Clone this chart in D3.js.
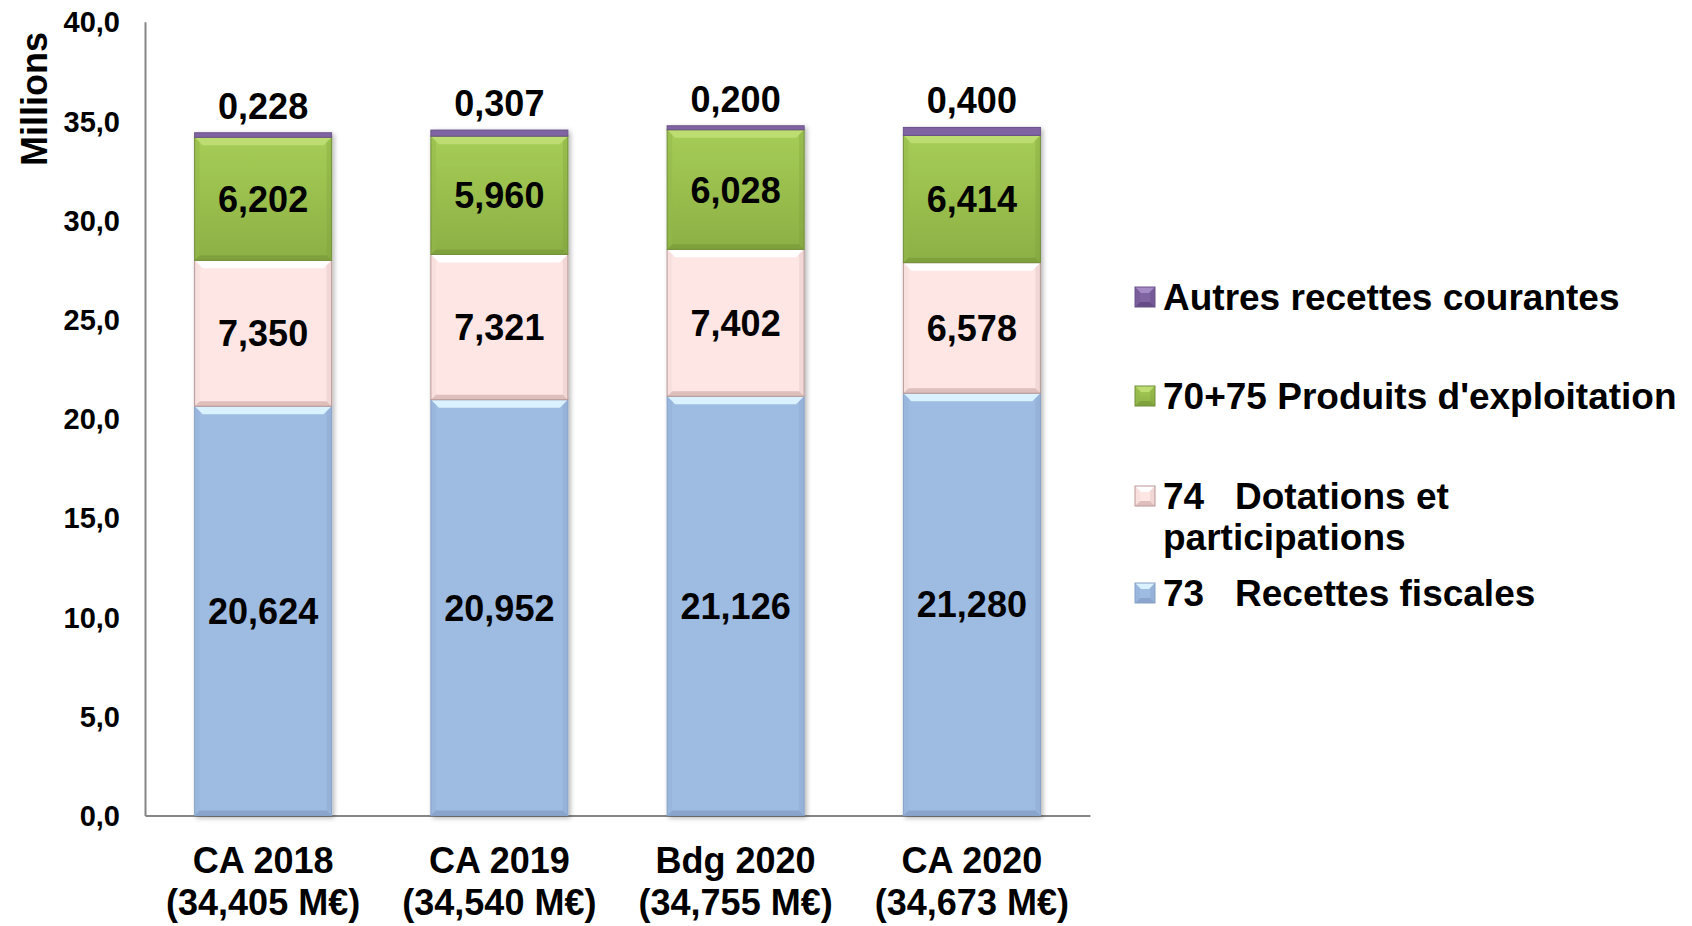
<!DOCTYPE html>
<html>
<head>
<meta charset="utf-8">
<script src="https://cdn.jsdelivr.net/npm/d3@7"></script>
<style>
    body{margin:0;background:#fff;}
    svg text{font-family:"Liberation Sans",Arial,Helvetica,sans-serif;font-weight:bold;fill:#000;}
</style>
</head>
<body>
<div id="panChart"></div>
<script>
// Data (millions)
const categories = ['CA 2018','CA 2019','Bdg 2020','CA 2020'];
const totalLabels = ['(34,405 M€)','(34,540 M€)','(34,755 M€)','(34,673 M€)'];
const recettesFiscales = [20.624,20.952,21.126,21.280];
const dotations = [7.350,7.321,7.402,6.578];
const produits = [6.202,5.960,6.028,6.414];
const autres = [0.228,0.307,0.200,0.400];
const seriesKeys = ['fisc','dot','prod','autres'];
const yTicks = [0,5,10,15,20,25,30,35,40];

// Legend, top to bottom
const legendLines = [
    {key:'autres', lines:[['Autres recettes courantes']]},
    {key:'prod', lines:[['70+75 Produits d\'exploitation']]},
    {key:'dot', lines:[['74','Dotations et'],['participations']]},
    {key:'fisc', lines:[['73','Recettes fiscales']]}
];

const chWidth = 1692, chHeight = 926;
const plot = {left:145, right:1090, top:21.7, bottom:815.5};

// colours: face, light bevel, dark bevel, side
const clrSeries = {
    fisc:  {face:'#9EBBE1', light:'#DAF2FF', dark:'#849FC6', side:'#93B1D9', stroke:'#86A2C8'},
    dot:   {face:'#FDE6E4', light:'#FFFFFF', dark:'#D6B5B2', side:'#F3D9D7', stroke:'#B99895'},
    prod:  {face:'url(#grdGreen)', light:'#BDDD72', dark:'#7C9D3B', side:'#93B84B', stroke:'#718F3A'},
    autres:{face:'#8064A2', light:'#A58BC6', dark:'#5E4680', side:'#735895', stroke:'#6A5289'}
};

const fr = d3.formatLocale({decimal:',', thousands:' ', grouping:[3], currency:['','€']});
const fmtVal = fr.format('.3f');
const fmtTick = fr.format('.1f');

const dtChart = categories.map((c,i)=>({
    cat:c, fisc:recettesFiscales[i], dot:dotations[i], prod:produits[i], autres:autres[i]
}));
const stacked = d3.stack().keys(seriesKeys)(dtChart);

let svg = d3.select('#panChart').append('svg')
    .attr('width',chWidth)
    .attr('height',chHeight);

let defs = svg.append('defs');
let grd = defs.append('linearGradient').attr('id','grdGreen')
    .attr('x1',0).attr('y1',0).attr('x2',0).attr('y2',1);
grd.append('stop').attr('offset','0%').attr('stop-color','#A6CD56');
grd.append('stop').attr('offset','100%').attr('stop-color','#8DB045');

defs.append('filter').attr('id','shadow')
    .attr('x','-10%').attr('y','-10%').attr('width','130%').attr('height','130%')
    .append('feDropShadow')
    .attr('dx',2).attr('dy',2).attr('stdDeviation',2.5)
    .attr('flood-color','#000').attr('flood-opacity',0.3);

let sclX = d3.scaleBand().domain(categories).range([plot.left,plot.right]).paddingInner(0.42).paddingOuter(0.21);
let sclY = d3.scaleLinear().domain([0,40]).range([plot.bottom,plot.top]);

// Axes
let gY = svg.append('g').attr('transform',`translate(${plot.left},0)`)
    .call(d3.axisLeft(sclY).tickValues(yTicks).tickSize(0).tickPadding(25).tickFormat(fmtTick));
gY.select('.domain').attr('stroke','#868686').attr('stroke-width',2);
gY.selectAll('text').style('font-size','29px').attr('dy','0.35em');

let gX = svg.append('g').attr('transform',`translate(0,${plot.bottom})`)
    .call(d3.axisBottom(sclX).tickSize(0).tickFormat(''));
gX.select('.domain').attr('stroke','#868686').attr('stroke-width',2);

// Category labels (2 lines)
let gCat = svg.append('g');
gCat.selectAll('text').data(categories).enter().append('text')
    .attr('text-anchor','middle')
    .style('font-size','36px')
    .each(function(d,i){
        let t = d3.select(this);
        let cx = sclX(d)+sclX.bandwidth()/2;
        t.append('tspan').attr('x',cx).attr('y',873).text(d);
        t.append('tspan').attr('x',cx).attr('y',915).text(totalLabels[i]);
    });

svg.append('text')
    .attr('transform','translate(47,99) rotate(-90)')
    .attr('text-anchor','middle')
    .style('font-size','36px')
    .text('Millions');

// Bevelled rectangle: bt top bevel, bb bottom/side bevel
function bevel(g,x0,y0,x1,y1,clr,bt,bb){
    g.append('rect')
        .attr('x',x0).attr('y',y0).attr('width',x1-x0).attr('height',y1-y0)
        .attr('fill',clr.face);
    if(bt>0){
        let poly = [
            {p:[[x0,y0],[x1,y0],[x1-bt,y0+bt],[x0+bt,y0+bt]], c:clr.light},
            {p:[[x0,y1],[x1,y1],[x1-bb,y1-bb],[x0+bb,y1-bb]], c:clr.dark, o:0.8},
            {p:[[x0,y0],[x0+bb,y0+bb],[x0+bb,y1-bb],[x0,y1]], c:clr.side, o:0.5},
            {p:[[x1,y0],[x1-bb,y0+bb],[x1-bb,y1-bb],[x1,y1]], c:clr.dark, o:0.3}
        ];
        g.selectAll(null).data(poly).enter().append('polygon')
            .attr('points',d=>d.p.map(q=>q.join(',')).join(' '))
            .attr('fill',d=>d.c)
            .attr('fill-opacity',d=>d.o||1);
    }
    g.append('rect')
        .attr('x',x0).attr('y',y0).attr('width',x1-x0).attr('height',y1-y0)
        .attr('fill','none')
        .attr('stroke',clr.stroke)
        .attr('stroke-width',1);
}

// Bars
let gBars = svg.append('g').attr('filter','url(#shadow)');
stacked.forEach(s=>{
    s.forEach((d,i)=>{
        let x0 = sclX(categories[i]), x1 = x0+sclX.bandwidth();
        let yT = sclY(d[1]), yB = sclY(d[0]);
        let h = yB-yT;
        bevel(gBars.append('g'),x0,yT,x1,yB,clrSeries[s.key],h>20?8:0,h>20?5:0);
    });
});

// Value labels
let gLbl = svg.append('g').attr('text-anchor','middle').style('font-size','36px');
stacked.forEach(s=>{
    s.forEach((d,i)=>{
        let cx = sclX(categories[i])+sclX.bandwidth()/2;
        let v = d.data[s.key];
        if(s.key=='autres'){
            gLbl.append('text').attr('x',cx).attr('y',sclY(d[1])-14).text(fmtVal(v));
        }else{
            gLbl.append('text').attr('x',cx).attr('y',(sclY(d[0])+sclY(d[1]))/2)
                .attr('dy','0.36em').text(fmtVal(v));
        }
    });
});

// Legend
const lgBase = [310,409,509,606];
let gLeg = svg.append('g').style('font-size','37px');
legendLines.forEach((l,i)=>{
    let y = lgBase[i];
    let g = gLeg.append('g');
    bevel(g,1135,y-23,1155,y-3,clrSeries[l.key],6,5);
    l.lines.forEach((ln,j)=>{
        let t = g.append('text').attr('y',y+j*41);
        t.append('tspan').attr('x',1163).text(ln[0]);
        if(ln.length>1) t.append('tspan').attr('x',1235).text(ln[1]);
    });
});
</script>
</body>
</html>
